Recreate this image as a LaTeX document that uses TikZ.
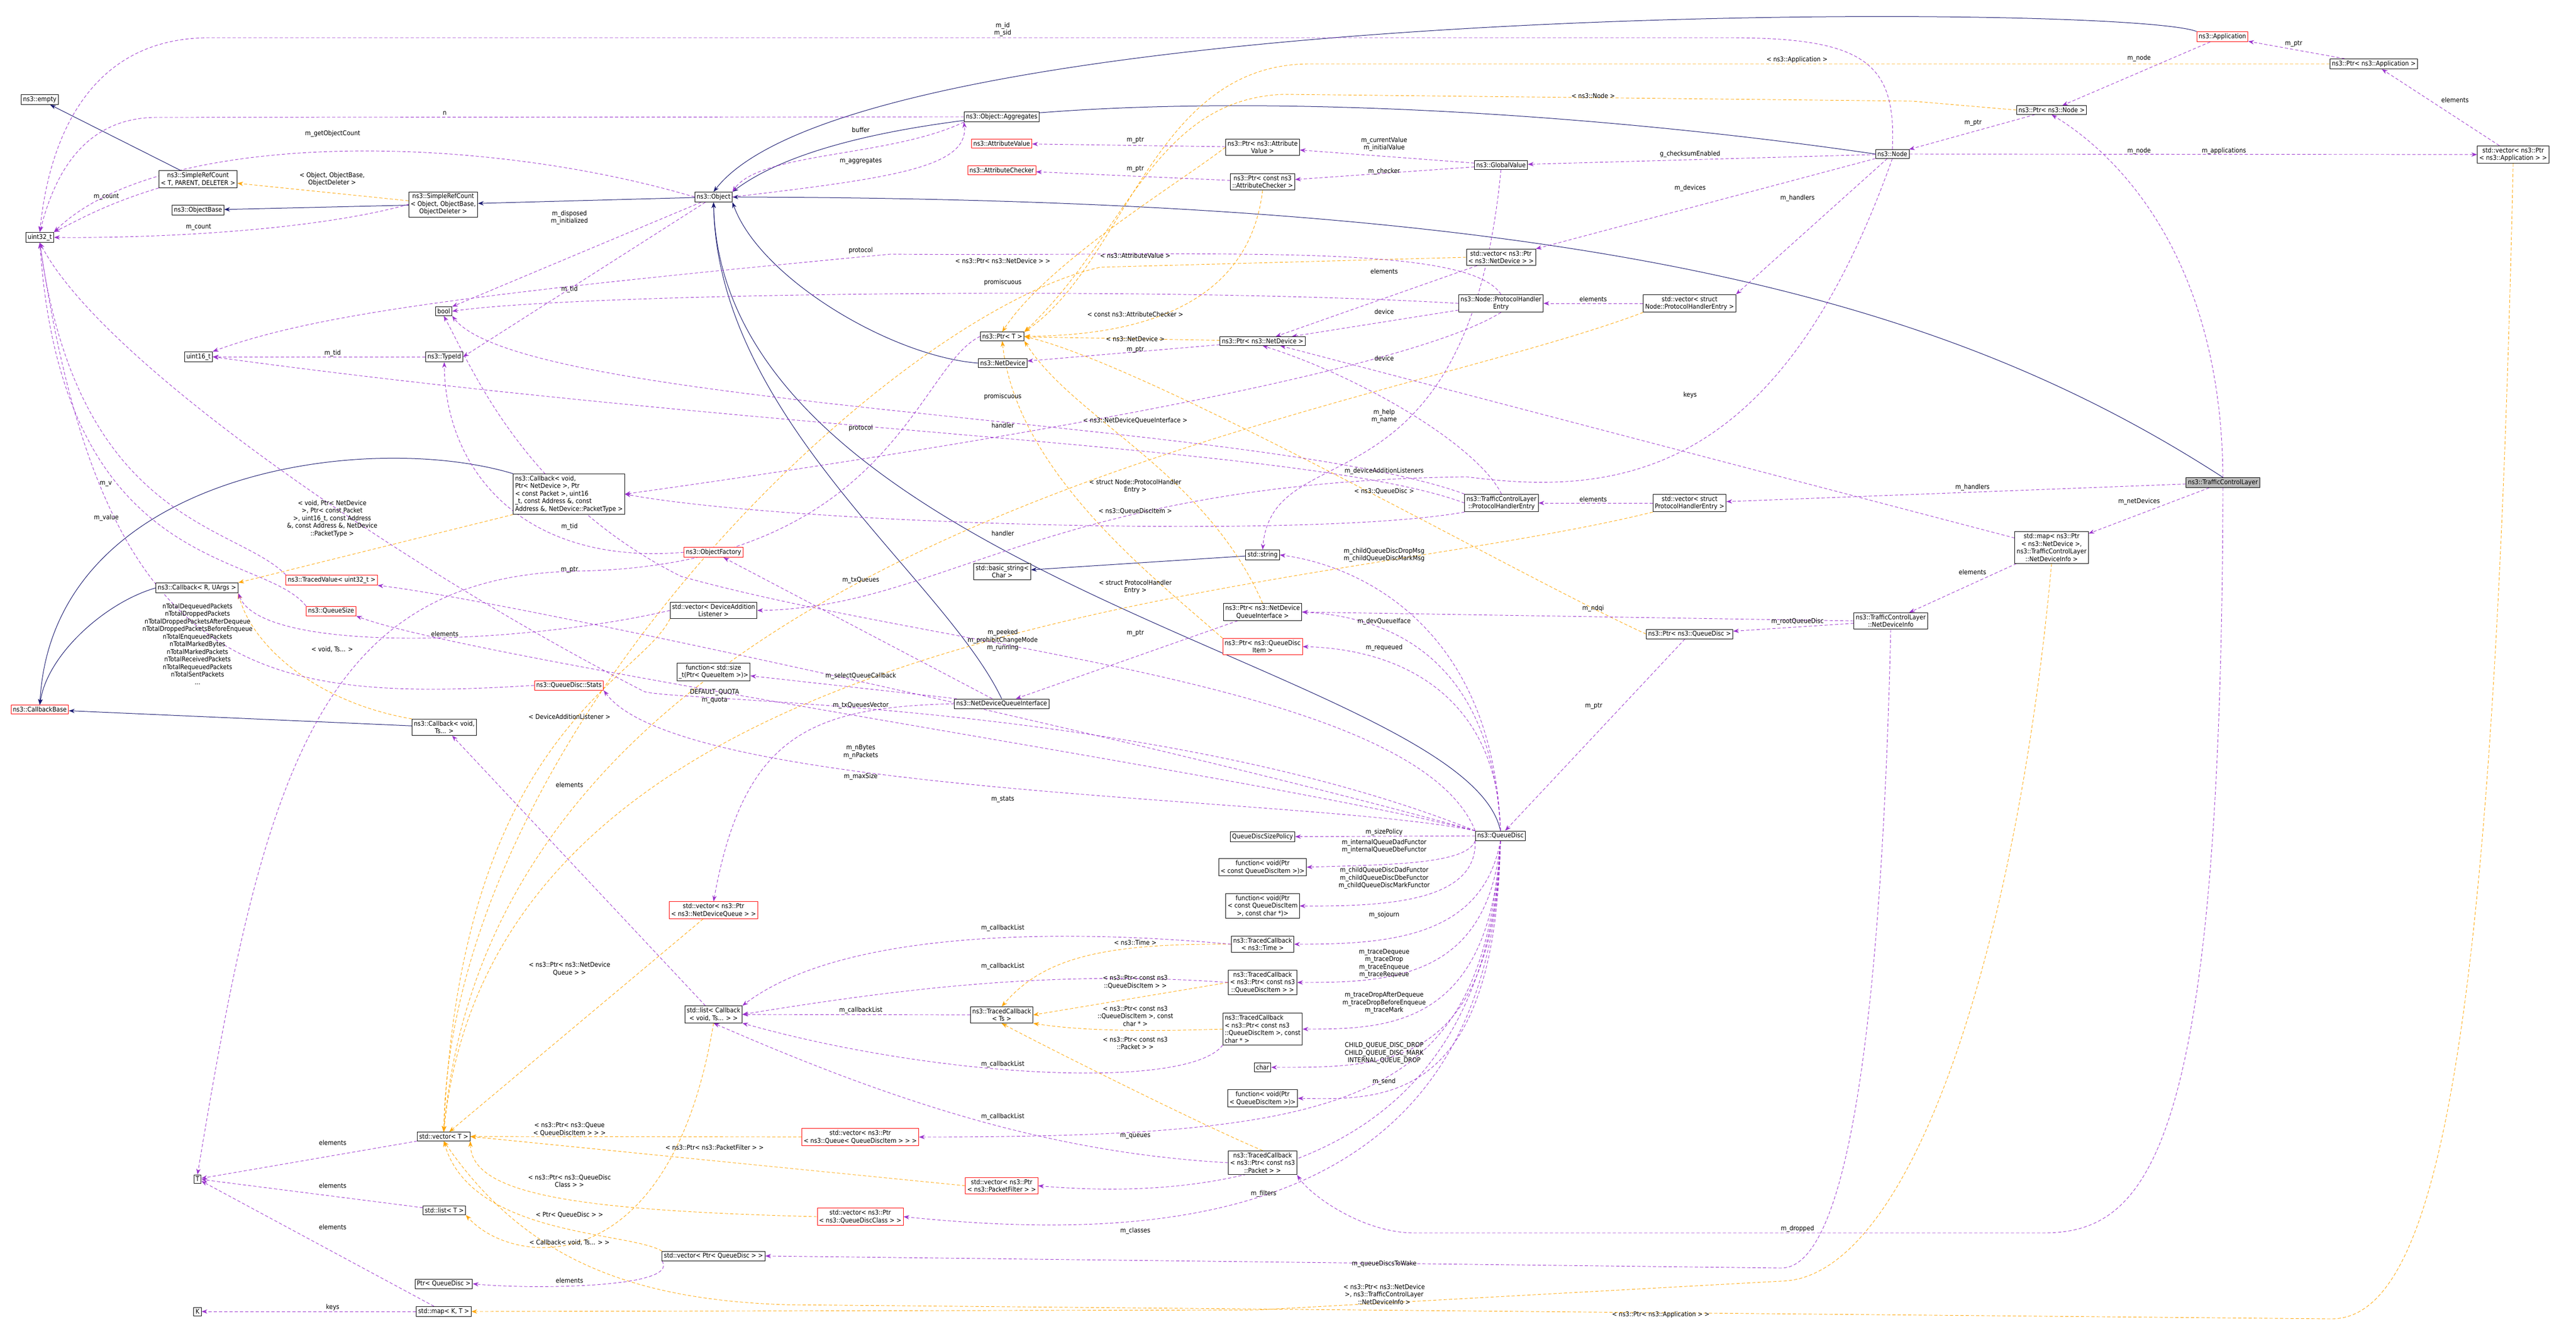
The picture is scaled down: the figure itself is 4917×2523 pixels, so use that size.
\documentclass[tikz,border=0pt]{standalone}
\usepackage{fontspec}
\setmainfont{DejaVu Sans Condensed}
\usetikzlibrary{arrows.meta}
\definecolor{inhc}{HTML}{191970}
\definecolor{usec}{HTML}{9A32CD}
\definecolor{tplc}{HTML}{FFA500}
\pgfdeclarelayer{bgpaper}
\pgfdeclarelayer{edges}
\pgfsetlayers{bgpaper,edges,main}
\begin{document}
\begin{tikzpicture}[x=1pt,y=-1pt,
 box/.style={draw=black,fill=white,font=\fontsize{12.5}{14.5}\selectfont,inner sep=3.5pt,align=center,line width=0.9pt},
 rbox/.style={box,draw=red},
 gbox/.style={box,fill=gray!55},
 lab/.style={font=\fontsize{12.5}{14.5}\selectfont,align=center,inner sep=0pt},
 inh/.style={draw=inhc,line width=1pt,-{Stealth[length=11pt,width=8pt]}},
 use/.style={draw=usec,dashed,dash pattern=on 6pt off 4pt,line width=0.9pt,-{Stealth[length=11pt,width=8pt]}},
 tpl/.style={draw=tplc,dashed,dash pattern=on 6pt off 4pt,line width=0.9pt,-{Stealth[length=11pt,width=8pt]}}]
\begin{pgfonlayer}{bgpaper}
\fill[white] (0,0) rectangle (4917,2523);
\end{pgfonlayer}
\useasboundingbox (0,0) rectangle (4917,2523);
% ---------- nodes
\node[box] (empty) at (76,190) {ns3::empty};
\node[box] (srcT) at (378,342) {ns3::SimpleRefCount\\< T, PARENT, DELETER >};
\node[box] (objbase) at (378,401) {ns3::ObjectBase};
\node[box] (u32) at (76,453) {uint32\_t};
\node[box] (srcO) at (846,390) {ns3::SimpleRefCount\\< Object, ObjectBase,\\ObjectDeleter >};
\node[box] (obj) at (1362,376) {ns3::Object};
\node[box] (booln) at (847,594) {bool};
\node[box] (u16) at (379,681) {uint16\_t};
\node[box] (typeid) at (848,681) {ns3::TypeId};
\node[box,align=left] (cbND) at (1086,943) {ns3::Callback< void,\\ Ptr< NetDevice >, Ptr\\< const Packet >, uint16\\\_t, const Address \&, const\\ Address \&, NetDevice::PacketType >};
\node[rbox] (objfac) at (1362,1054) {ns3::ObjectFactory};
\node[box] (cbR) at (376,1122) {ns3::Callback< R, UArgs >};
\node[rbox] (tvU32) at (633,1107) {ns3::TracedValue< uint32\_t >};
\node[rbox] (qsize) at (632,1166) {ns3::QueueSize};
\node[box] (vecDAL) at (1362,1165) {std::vector< DeviceAddition\\Listener >};
\node[box] (fnSize) at (1362,1282) {function< std::size\\\_t(Ptr< QueueItem >)>};
\node[rbox] (stats) at (1086,1308) {ns3::QueueDisc::Stats};
\node[rbox] (cbBase) at (76,1354) {ns3::CallbackBase};
\node[box] (cbTs) at (848,1388) {ns3::Callback< void,\\ Ts... >};
\node[rbox] (vecNDQ) at (1362,1737) {std::vector< ns3::Ptr\\< ns3::NetDeviceQueue > >};
\node[box] (listCb) at (1362,1936) {std::list< Callback\\< void, Ts... > >};
\node[box] (vecT) at (847,2169) {std::vector< T >};
\node[box] (Tn) at (377,2250) {T};
\node[box] (listT) at (848,2310) {std::list< T >};
\node[rbox] (vecQ) at (1642,2170) {std::vector< ns3::Ptr\\< ns3::Queue< QueueDiscItem > > >};
\node[rbox] (vecQDC) at (1642,2322) {std::vector< ns3::Ptr\\< ns3::QueueDiscClass > >};
\node[box] (vecPQD) at (1362,2397) {std::vector< Ptr< QueueDisc > >};
\node[box] (pQD) at (847,2450) {Ptr< QueueDisc >};
\node[box] (Kn) at (377,2503) {K};
\node[box] (mapKT) at (847,2503) {std::map< K, T >};
\node[box] (aggr) at (1912,223) {ns3::Object::Aggregates};
\node[rbox] (attrval) at (1912,274) {ns3::AttributeValue};
\node[rbox] (attrchk) at (1912,325) {ns3::AttributeChecker};
\node[box] (ptrAV) at (2410,281) {ns3::Ptr< ns3::Attribute\\Value >};
\node[box] (ptrAC) at (2410,347) {ns3::Ptr< const ns3\\::AttributeChecker >};
\node[box] (gval) at (2865,315) {ns3::GlobalValue};
\node[box] (vecND) at (2865,491) {std::vector< ns3::Ptr\\< ns3::NetDevice > >};
\node[box] (nphe) at (2865,579) {ns3::Node::ProtocolHandler\\Entry};
\node[box] (vecNphe) at (3225,579) {std::vector< struct\\ Node::ProtocolHandlerEntry >};
\node[box] (ptrT) at (1913,642) {ns3::Ptr< T >};
\node[box] (netdev) at (1914,693) {ns3::NetDevice};
\node[box] (ptrND) at (2410,651) {ns3::Ptr< ns3::NetDevice >};
\node[box] (tphe) at (2866,960) {ns3::TrafficControlLayer\\::ProtocolHandlerEntry};
\node[box] (vecTphe) at (3225,960) {std::vector< struct\\ ProtocolHandlerEntry >};
\node[box] (str) at (2410,1059) {std::string};
\node[box] (bstr) at (1913,1091) {std::basic\_string<\\ Char >};
\node[box] (ptrNDQI) at (2410,1168) {ns3::Ptr< ns3::NetDevice\\QueueInterface >};
\node[rbox] (ptrQDI) at (2410,1234) {ns3::Ptr< ns3::QueueDisc\\Item >};
\node[box] (ptrQD) at (3225,1210) {ns3::Ptr< ns3::QueueDisc >};
\node[box] (ndqi) at (1912,1343) {ns3::NetDeviceQueueInterface};
\node[box] (qd) at (2864,1595) {ns3::QueueDisc};
\node[box] (qdsp) at (2410,1597) {QueueDiscSizePolicy};
\node[box] (fnCQ) at (2410,1655) {function< void(Ptr\\< const QueueDiscItem >)>};
\node[box] (fnCQc) at (2410,1729) {function< void(Ptr\\< const QueueDiscItem\\ >, const char *)>};
\node[box] (tcTime) at (2410,1802) {ns3::TracedCallback\\< ns3::Time >};
\node[box] (tcQDI) at (2410,1875) {ns3::TracedCallback\\< ns3::Ptr< const ns3\\::QueueDiscItem > >};
\node[box] (tcTs) at (1912,1937) {ns3::TracedCallback\\< Ts >};
\node[box,align=left] (tcQDIc) at (2410,1964) {ns3::TracedCallback\\< ns3::Ptr< const ns3\\::QueueDiscItem >, const\\ char * >};
\node[box] (charn) at (2410,2037) {char};
\node[box] (fnQDI) at (2410,2096) {function< void(Ptr\\< QueueDiscItem >)>};
\node[box] (tcPkt) at (2410,2219) {ns3::TracedCallback\\< ns3::Ptr< const ns3\\::Packet > >};
\node[rbox] (vecPF) at (1912,2263) {std::vector< ns3::Ptr\\< ns3::PacketFilter > >};
\node[rbox] (app) at (4242,70) {ns3::Application};
\node[box] (ptrApp) at (4531,122) {ns3::Ptr< ns3::Application >};
\node[box] (ptrNode) at (3916,210) {ns3::Ptr< ns3::Node >};
\node[box] (node) at (3612,294) {ns3::Node};
\node[box] (vecApp) at (4797,295) {std::vector< ns3::Ptr\\< ns3::Application > >};
\node[gbox] (tcl) at (4243,921) {ns3::TrafficControlLayer};
\node[box] (mapND) at (3916,1045) {std::map< ns3::Ptr\\< ns3::NetDevice >,\\ ns3::TrafficControlLayer\\::NetDeviceInfo >};
\node[box] (ndi) at (3609,1185) {ns3::TrafficControlLayer\\::NetDeviceInfo};
\begin{pgfonlayer}{edges}
% ---------- inheritance
\draw[inh] (srcT) -- (empty);
\draw[inh] (srcO) -- (objbase);
\draw[inh] (obj) -- (srcO);
\draw[inh] (app.north west) .. controls (4050,5) and (1650,-5) .. (obj.north);
\draw[inh] (node.west) .. controls (2800,180) and (1700,140) .. (obj.north east);
\draw[inh] (tcl.north) .. controls (3700,560) and (3000,380) .. (obj.east);
\draw[inh] (netdev.west) .. controls (1700,680) and (1450,530) .. (obj.south east);
\draw[inh] (qd.north) .. controls (2800,1280) and (1380,1100) .. (obj.south);
\draw[inh] (ndqi.north) .. controls (1800,1100) and (1370,800) .. (obj.south);
\draw[inh] (cbND.north west) .. controls (700,820) and (100,900) .. (cbBase.north);
\draw[inh] (cbR.west) .. controls (200,1150) and (90,1250) .. (cbBase.north);
\draw[inh] (cbTs) -- (cbBase);
\draw[inh] (str) -- (bstr);
% ---------- templates
\draw[tpl] (srcO) -- (srcT);
\draw[tpl] (cbND.south west) -- (cbR.north east);
\draw[tpl] (cbTs.north west) .. controls (600,1340) and (480,1230) .. (cbR.south east);
\draw[tpl] (ptrAV.west) .. controls (2250,350) and (2000,500) .. (ptrT.north);
\draw[tpl] (ptrAC.south) .. controls (2380,620) and (2100,640) .. (ptrT.east);
\draw[tpl] (ptrND) -- (ptrT);
\draw[tpl] (ptrNode.west) -- (3650,193) -- (2450,180) .. controls (2200,190) and (2150,450) .. (ptrT.north east);
\draw[tpl] (ptrApp.west) -- (2500,122) .. controls (2200,122) and (2150,500) .. (ptrT.north east);
\draw[tpl] (ptrNDQI.north) .. controls (2300,900) and (2050,800) .. (ptrT.south east);
\draw[tpl] (ptrQD.west) .. controls (2900,1100) and (2200,700) .. (ptrT.east);
\draw[tpl] (ptrQDI.north west) .. controls (2200,1100) and (1940,900) .. (ptrT.south);
\draw[tpl] (vecND.west) -- (2100,510) .. controls (1700,600) and (860,1400) .. (vecT.north);
\draw[tpl] (vecNphe.south west) .. controls (2600,800) and (950,1000) .. (vecT.north);
\draw[tpl] (vecTphe.south west) .. controls (2500,1140) and (950,1150) .. (vecT.north);
\draw[tpl] (vecDAL.south west) .. controls (1220,1300) and (880,1400) .. (vecT.north);
\draw[tpl] (vecNDQ) -- (vecT);
\draw[tpl] (vecQ) -- (vecT);
\draw[tpl] (vecPF.west) -- (vecT.east);
\draw[tpl] (vecQDC.west) .. controls (1100,2310) and (900,2280) .. (vecT.south east);
\draw[tpl] (vecPQD.north west) .. controls (1200,2350) and (900,2360) .. (vecT.south);
\draw[tpl] (vecApp.south) .. controls (4760,2000) and (4650,2517) .. (4450,2517) -- (1500,2490) .. controls (1200,2480) and (1000,2400) .. (vecT.south);
\draw[tpl] (mapND.south) .. controls (3850,1800) and (3650,2440) .. (3400,2445) -- (2400,2500) -- (mapKT.east);
\draw[tpl] (listCb.south) .. controls (1280,2450) and (980,2420) .. (listT.south east);
\draw[tpl] (tcTime.west) .. controls (2100,1800) and (1990,1830) .. (tcTs.north);
\draw[tpl] (tcQDI.west) -- (tcTs.east);
\draw[tpl] (tcQDIc.west) .. controls (2150,1970) and (2050,1965) .. (tcTs.south east);
\draw[tpl] (tcPkt.north) .. controls (2300,2150) and (2000,2000) .. (tcTs.south);
% ---------- usage
\draw[use] (srcT.south west) .. controls (200,390) and (150,420) .. (u32.north east);
\draw[use] (srcO.west) .. controls (600,440) and (300,455) .. (u32.east);
\draw[use] (obj.west) .. controls (900,250) and (300,250) .. (u32.north east);
\draw[use] (aggr.west) -- (300,224) .. controls (150,224) and (100,350) .. (u32.north);
\draw[use] (node.north) .. controls (3620,120) and (3560,72) .. (3300,72) -- (400,72) .. controls (150,72) and (90,300) .. (u32.north);
\draw[use] (obj) -- (booln.north east);
\draw[use] (obj) -- (typeid.east);
\draw[use] (typeid) -- (u16);
\draw[use] (aggr.south west) .. controls (1700,300) and (1450,290) .. (obj.north east);
\draw[use] (obj.east) .. controls (1700,340) and (1850,320) .. (aggr.south west);
\draw[use] (ptrAV) -- (attrval);
\draw[use] (ptrAC) -- (attrchk);
\draw[use] (gval) -- (ptrAV);
\draw[use] (gval) -- (ptrAC);
\draw[use] (gval.south) .. controls (2800,1000) and (2430,820) .. (str.north);
\draw[use] (node) -- (gval);
\draw[use] (node) -- (vecND.north east);
\draw[use] (node) -- (vecNphe.north east);
\draw[use] (node) -- (vecApp);
\draw[use] (ptrNode) -- (node);
\draw[use] (app) -- (ptrNode);
\draw[use] (ptrApp) -- (app);
\draw[use] (vecApp) -- (ptrApp);
\draw[use] (vecNphe) -- (nphe);
\draw[use] (vecND) -- (ptrND);
\draw[use] (nphe) -- (ptrND);
\draw[use] (nphe.north) .. controls (2800,460) and (2300,490) .. (1700,485) .. controls (900,560) and (600,600) .. (u16.north east);
\draw[use] (nphe.west) .. controls (2200,545) and (1100,560) .. (booln.east);
\draw[use] (nphe.south) .. controls (2700,700) and (2000,830) .. (cbND.east);
\draw[use] (tphe.north) .. controls (2820,850) and (2600,720) .. (ptrND.south);
\draw[use] (tphe.west) .. controls (2500,850) and (1500,830) .. (u16.east);
\draw[use] (tphe.north west) .. controls (2400,800) and (1000,780) .. (booln.south east);
\draw[use] (tphe.south west) .. controls (2500,1030) and (1500,1000) .. (cbND.east);
\draw[use] (vecTphe) -- (tphe);
\draw[use] (ptrND) -- (netdev);
\draw[use] (ptrT.west) .. controls (1750,700) and (1700,1080) .. (1100,1090) .. controls (600,1100) and (500,1500) .. (Tn.north);
\draw[use] (tcl) -- (vecTphe);
\draw[use] (tcl) -- (mapND);
\draw[use] (tcl.north) .. controls (4240,500) and (4050,300) .. (ptrNode.south);
\draw[use] (tcl.south) .. controls (4240,2200) and (4100,2353) .. (3900,2353) -- (2700,2353) .. controls (2600,2353) and (2500,2280) .. (tcPkt.south east);
\draw[use] (mapND) -- (ptrND);
\draw[use] (mapND) -- (ndi);
\draw[use] (ndi.west) -- (ptrNDQI.east);
\draw[use] (ndi) -- (ptrQD);
\draw[use] (ndi.south) .. controls (3590,2000) and (3520,2420) .. (3400,2420) -- (vecPQD.east);
\draw[use] (ptrQD) -- (qd);
\draw[use] (ptrNDQI) -- (ndqi);
\draw[use] (ndqi.west) .. controls (1550,1350) and (1420,1400) .. (vecNDQ.north);
\draw[use] (ndqi) -- (fnSize);
\draw[use] (ndqi) -- (objfac);
\draw[use] (node.south) .. controls (3400,900) and (3100,950) .. (2800,910) .. controls (2000,920) and (1800,1160) .. (vecDAL.east);
\draw[use] (objfac.west) .. controls (1000,1080) and (850,900) .. (typeid.south);
\draw[use] (vecDAL.west) .. controls (1000,1230) and (500,1250) .. (cbR.south east);
\draw[use] (stats.west) .. controls (500,1340) and (200,1300) .. (u32.south);
\draw[use] (tvU32.north west) .. controls (450,1000) and (150,1000) .. (u32.south);
\draw[use] (qsize.north west) .. controls (500,1050) and (120,1100) .. (u32.south);
\draw[use] (qd.north west) .. controls (2500,1520) and (1300,1520) .. (stats.south east);
\draw[use] (qd.north west) .. controls (2400,1480) and (900,1260) .. (qsize.south east);
\draw[use] (qd.north west) .. controls (2300,1440) and (1000,1150) .. (tvU32.south east);
\draw[use] (qd.north west) .. controls (2200,1340) and (1300,1340) .. (1230,1320) .. controls (800,1100) and (200,700) .. (u32.south);
\draw[use] (qd.north west) .. controls (2700,1300) and (1800,1240) .. (1300,1100) .. controls (1000,950) and (900,700) .. (booln.south);
\draw[use] (qd.north) .. controls (2850,1300) and (2700,1180) .. (ptrNDQI.east);
\draw[use] (qd.north) .. controls (2860,1350) and (2700,1240) .. (ptrQDI.east);
\draw[use] (qd.north) .. controls (2850,1200) and (2600,1080) .. (str.east);
\draw[use] (qd) -- (qdsp);
\draw[use] (qd.south west) .. controls (2800,1650) and (2650,1650) .. (fnCQ.east);
\draw[use] (qd.south west) .. controls (2820,1720) and (2650,1730) .. (fnCQc.east);
\draw[use] (qd.south) .. controls (2830,1790) and (2650,1802) .. (tcTime.east);
\draw[use] (qd.south) .. controls (2840,1870) and (2650,1875) .. (tcQDI.east);
\draw[use] (qd.south) .. controls (2845,1960) and (2650,1964) .. (tcQDIc.east);
\draw[use] (qd.south) .. controls (2850,2040) and (2650,2037) .. (charn.east);
\draw[use] (qd.south) .. controls (2855,2100) and (2650,2100) .. (fnQDI.east);
\draw[use] (qd.south) .. controls (2830,2100) and (2600,2170) .. (vecQ.east);
\draw[use] (qd.south) .. controls (2840,2250) and (2300,2290) .. (vecPF.east);
\draw[use] (qd.south) .. controls (2850,2350) and (2200,2370) .. (vecQDC.east);
\draw[use] (tcTime.west) .. controls (2000,1770) and (1600,1780) .. (listCb.north east);
\draw[use] (tcQDI.west) .. controls (2000,1850) and (1700,1890) .. (listCb.east);
\draw[use] (tcTs) -- (listCb);
\draw[use] (tcQDIc.south west) .. controls (2270,2080) and (1800,2060) .. (listCb.south east);
\draw[use] (tcPkt.west) .. controls (2000,2200) and (1700,2100) .. (listCb.south);
\draw[use] (listCb) -- (cbTs);
\draw[use] (vecT) -- (Tn);
\draw[use] (listT) -- (Tn);
\draw[use] (mapKT) -- (Tn);
\draw[use] (mapKT) -- (Kn);
\draw[use] (vecPQD.south west) .. controls (1300,2460) and (1000,2460) .. (pQD.east);
\end{pgfonlayer}
% ---------- labels
\node[lab] at (1914,56) {m\_id\\m\_sid};
\node[lab] at (849,216) {n};
\node[lab] at (635,255) {m\_getObjectCount};
\node[lab] at (203,376) {m\_count};
\node[lab] at (379,434) {m\_count};
\node[lab] at (634,342) {< Object, ObjectBase,\\ObjectDeleter >};
\node[lab] at (1087,415) {m\_disposed\\m\_initialized};
\node[lab] at (1643,248) {buffer};
\node[lab] at (1643,308) {m\_aggregates};
\node[lab] at (1643,478) {protocol};
\node[lab] at (1087,552) {m\_tid};
\node[lab] at (635,674) {m\_tid};
\node[lab] at (1643,817) {protocol};
\node[lab] at (202,923) {m\_v};
\node[lab] at (203,988) {m\_value};
\node[lab] at (634,990) {< void, Ptr< NetDevice\\>, Ptr< const Packet\\>, uint16\_t, const Address\\\&, const Address \&, NetDevice\\::PacketType >};
\node[lab] at (1087,1005) {m\_tid};
\node[lab] at (1087,1088) {m\_ptr};
\node[lab] at (1643,1107) {m\_txQueues};
\node[lab] at (849,1210) {elements};
\node[lab] at (634,1239) {< void, Ts... >};
\node[lab] at (377,1229) {nTotalDequeuedPackets\\nTotalDroppedPackets\\nTotalDroppedPacketsAfterDequeue\\nTotalDroppedPacketsBeforeEnqueue\\nTotalEnqueuedPackets\\nTotalMarkedBytes\\nTotalMarkedPackets\\nTotalReceivedPackets\\nTotalRequeuedPackets\\nTotalSentPackets\\...};
\node[lab] at (1643,1290) {m\_selectQueueCallback};
\node[lab] at (1364,1329) {DEFAULT\_QUOTA\\m\_quota};
\node[lab] at (1643,1346) {m\_txQueuesVector};
\node[lab] at (1087,1368) {< DeviceAdditionListener >};
\node[lab] at (1643,1435) {m\_nBytes\\m\_nPackets};
\node[lab] at (1643,1482) {m\_maxSize};
\node[lab] at (1087,1498) {elements};
\node[lab] at (1087,1849) {< ns3::Ptr< ns3::NetDevice\\Queue > >};
\node[lab] at (1914,1771) {m\_callbackList};
\node[lab] at (1914,1844) {m\_callbackList};
\node[lab] at (1643,1928) {m\_callbackList};
\node[lab] at (1914,2031) {m\_callbackList};
\node[lab] at (1914,2131) {m\_callbackList};
\node[lab] at (635,2181) {elements};
\node[lab] at (1087,2155) {< ns3::Ptr< ns3::Queue\\< QueueDiscItem > > >};
\node[lab] at (1364,2190) {< ns3::Ptr< ns3::PacketFilter > >};
\node[lab] at (1087,2254) {< ns3::Ptr< ns3::QueueDisc\\Class > >};
\node[lab] at (635,2263) {elements};
\node[lab] at (1087,2319) {< Ptr< QueueDisc > >};
\node[lab] at (635,2342) {elements};
\node[lab] at (1087,2371) {< Callback< void, Ts... > >};
\node[lab] at (1087,2444) {elements};
\node[lab] at (635,2495) {keys};
\node[lab] at (3041,183) {< ns3::Node >};
\node[lab] at (2167,268) {m\_ptr};
\node[lab] at (2167,323) {m\_ptr};
\node[lab] at (2642,275) {m\_currentValue\\m\_initialValue};
\node[lab] at (2642,327) {m\_checker};
\node[lab] at (3226,294) {g\_checksumEnabled};
\node[lab] at (3226,359) {m\_devices};
\node[lab] at (2167,488) {< ns3::AttributeValue >};
\node[lab] at (1914,498) {< ns3::Ptr< ns3::NetDevice > >};
\node[lab] at (2642,518) {elements};
\node[lab] at (1914,539) {promiscuous};
\node[lab] at (3041,571) {elements};
\node[lab] at (2642,595) {device};
\node[lab] at (2167,600) {< const ns3::AttributeChecker >};
\node[lab] at (2167,647) {< ns3::NetDevice >};
\node[lab] at (2167,668) {m\_ptr};
\node[lab] at (2642,684) {device};
\node[lab] at (3226,754) {keys};
\node[lab] at (1914,757) {promiscuous};
\node[lab] at (2642,794) {m\_help\\m\_name};
\node[lab] at (2167,803) {< ns3::NetDeviceQueueInterface >};
\node[lab] at (1914,812) {handler};
\node[lab] at (2642,899) {m\_deviceAdditionListeners};
\node[lab] at (2167,928) {< struct Node::ProtocolHandler\\Entry >};
\node[lab] at (2642,938) {< ns3::QueueDisc >};
\node[lab] at (3041,953) {elements};
\node[lab] at (2167,976) {< ns3::QueueDiscItem >};
\node[lab] at (1914,1018) {handler};
\node[lab] at (2642,1059) {m\_childQueueDiscDropMsg\\m\_childQueueDiscMarkMsg};
\node[lab] at (2167,1120) {< struct ProtocolHandler\\Entry >};
\node[lab] at (3041,1161) {m\_ndqi};
\node[lab] at (2642,1186) {m\_devQueueIface};
\node[lab] at (1914,1222) {m\_peeked\\m\_prohibitChangeMode\\m\_running};
\node[lab] at (2167,1209) {m\_ptr};
\node[lab] at (2642,1236) {m\_requeued};
\node[lab] at (3042,1348) {m\_ptr};
\node[lab] at (1914,1526) {m\_stats};
\node[lab] at (2642,1588) {m\_sizePolicy};
\node[lab] at (2642,1615) {m\_internalQueueDadFunctor\\m\_internalQueueDbeFunctor};
\node[lab] at (2642,1676) {m\_childQueueDiscDadFunctor\\m\_childQueueDiscDbeFunctor\\m\_childQueueDiscMarkFunctor};
\node[lab] at (2642,1746) {m\_sojourn};
\node[lab] at (2642,1839) {m\_traceDequeue\\m\_traceDrop\\m\_traceEnqueue\\m\_traceRequeue};
\node[lab] at (2642,1914) {m\_traceDropAfterDequeue\\m\_traceDropBeforeEnqueue\\m\_traceMark};
\node[lab] at (2642,2010) {CHILD\_QUEUE\_DISC\_DROP\\CHILD\_QUEUE\_DISC\_MARK\\INTERNAL\_QUEUE\_DROP};
\node[lab] at (2642,2064) {m\_send};
\node[lab] at (2167,1799) {< ns3::Time >};
\node[lab] at (2167,1874) {< ns3::Ptr< const ns3\\::QueueDiscItem > >};
\node[lab] at (2167,1939) {< ns3::Ptr< const ns3\\::QueueDiscItem >, const\\char * >};
\node[lab] at (2167,1991) {< ns3::Ptr< const ns3\\::Packet > >};
\node[lab] at (2167,2168) {m\_queues};
\node[lab] at (2412,2278) {m\_filters};
\node[lab] at (2167,2349) {m\_classes};
\node[lab] at (2642,2412) {m\_queueDiscsToWake};
\node[lab] at (2642,2470) {< ns3::Ptr< ns3::NetDevice\\>, ns3::TrafficControlLayer\\::NetDeviceInfo >};
\node[lab] at (3170,2509) {< ns3::Ptr< ns3::Application > >};
\node[lab] at (3430,114) {< ns3::Application >};
\node[lab] at (4083,111) {m\_node};
\node[lab] at (4378,84) {m\_ptr};
\node[lab] at (4686,191) {elements};
\node[lab] at (3766,235) {m\_ptr};
\node[lab] at (4083,288) {m\_node};
\node[lab] at (4245,288) {m\_applications};
\node[lab] at (3431,378) {m\_handlers};
\node[lab] at (3765,930) {m\_handlers};
\node[lab] at (4083,957) {m\_netDevices};
\node[lab] at (3765,1092) {elements};
\node[lab] at (3431,1186) {m\_rootQueueDisc};
\node[lab] at (3431,2345) {m\_dropped};
\end{tikzpicture}
\end{document}
